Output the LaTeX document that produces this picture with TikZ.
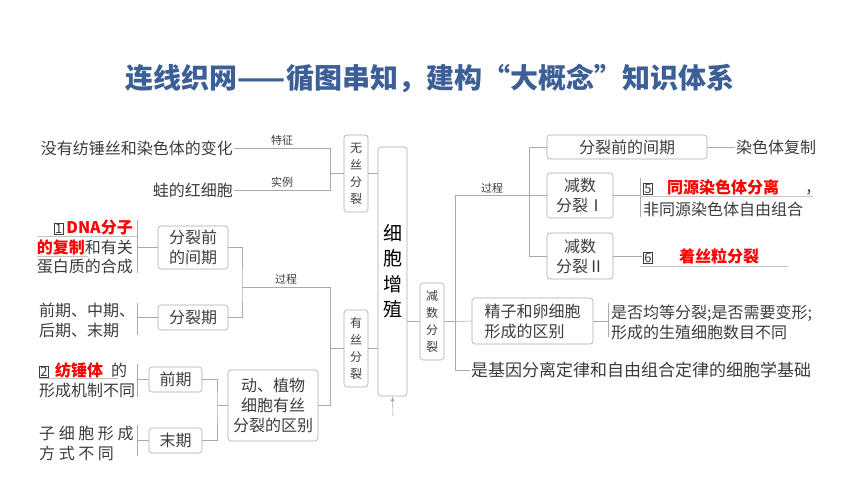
\documentclass[tikz,border=0pt]{standalone}
\usepackage{fontspec}
\setmainfont{Noto Sans CJK SC}
\usetikzlibrary{positioning,arrows.meta}
\definecolor{titleblue}{RGB}{59,95,150}
\definecolor{inkgray}{RGB}{60,60,60}
\definecolor{edge}{RGB}{170,170,170}
\definecolor{keyred}{RGB}{255,0,0}
\newcommand\numbox[1]{{\setlength{\fboxsep}{0.3pt}\setlength{\fboxrule}{0.6pt}\fbox{\makebox[8pt]{\fontsize{13}{13}\selectfont #1}}}}
\newcommand\ans[1]{\textcolor{keyred}{\bfseries #1}}

\begin{document}
\begin{tikzpicture}[x=1pt, y=-1pt,
  box/.style = {draw=edge, rounded corners=3pt, line width=0.6pt, inner sep=0pt, align=center, text=inkgray, font=\fontsize{16}{20}\selectfont},
  vbox/.style = {box, minimum width=24pt, minimum height=77pt, font=\fontsize{12}{17}\selectfont},
  txt/.style = {text=inkgray, inner sep=1pt, font=\fontsize{16}{20}\selectfont},
  lab/.style = {text=inkgray, inner sep=0pt, font=\fontsize{11}{11}\selectfont},
  line/.style = {draw=edge, line width=0.6pt},
  blank/.style = {draw=edge!70, line width=0.6pt}]
\useasboundingbox (0,0) rectangle (860,484);

% title
\node[text=titleblue, font=\fontsize{28}{28}\selectfont\bfseries] (title) at (430,78) {连线织网——循图串知，建构“大概念”知识体系};

% centre
\node[box, minimum width=29pt, minimum height=249pt, font=\fontsize{19}{25.5}\selectfont, text=black] (zz) at (392.5,271.5) {细\\胞\\增\\殖};
\node[vbox] (wusi) at (356,173.5) {无\\丝\\分\\裂};
\node[vbox] (yousi) at (356,348.5) {有\\丝\\分\\裂};
\node[vbox] (jianshu) at (432,321.5) {减\\数\\分\\裂};
\coordinate (src) at (393,416);
\draw[line, -{Latex[length=5pt,width=4pt]}] (src) -- (zz.south);
\draw[line] (wusi.east) -- (wusi.east -| zz.west);
\draw[line] (yousi.east) -- (yousi.east -| zz.west);
\draw[line] (jianshu.west) -- (jianshu.west -| zz.east);

% amitosis
\node[txt, anchor=east] (nofib) at (234,148) {没有纺锤丝和染色体的变化};
\node[txt, anchor=east] (frog) at (234,190) {蛙的红细胞};
\coordinate (wj) at (330,173.5);
\draw[line] (nofib.east) -- node[lab, above=2pt]{特征} (nofib.east -| wj) -- (frog.east -| wj) -- node[lab, above=2pt]{实例} (frog.east);
\draw[line] (wj) -- (wusi.west);

% mitosis
\node[box, minimum width=70pt, minimum height=43pt] (jq1) at (193,247.5) {分裂前\\的间期};
\node[box, minimum width=70pt, minimum height=25pt] (flq) at (193,317.5) {分裂期};
\node[box, minimum width=53pt, minimum height=25pt] (qq) at (175.5,379.5) {前期};
\node[box, minimum width=53pt, minimum height=25pt] (mq) at (175.5,440.5) {末期};
\node[box, minimum width=90pt, minimum height=71pt] (qb) at (273,405.5) {动、植物\\细胞有丝\\分裂的区别};
\coordinate (pj) at (242,287);
\coordinate (yj) at (330,287);
\coordinate (bj) at (217,405.5);
\draw[line] (jq1.east) -| (pj) |- (flq.east);
\draw[line] (pj) -- node[lab, above=2pt]{过程} (yj) |- (qb.east);
\draw[line] (yousi.west) -- (yousi.west -| yj);
\draw[line] (qq.east) -| (bj) |- (mq.east);
\draw[line] (bj) -- (qb.west);

\node[txt, anchor=east, align=right, font=\fontsize{16}{19.5}\selectfont] (dna) at (134,247) {\numbox{1}\,\ans{DNA分子}\\\ans{的复制}和有关\\蛋白质的合成};
\node[txt, anchor=west, align=left] (phases) at (38,320) {前期、中期、\\后期、末期};
\node[txt, anchor=west, align=left] (spindle) at (38,380) {\numbox{2}\hspace{6pt}\ans{纺锤体}\hspace{8pt}的\\形成机制不同};
\node[txt, anchor=west, align=left] (daughter) at (38,443) {子 细 胞 形 成\\方 式 不 同};
\draw[line] (137,220) -- (137,273);
\draw[line] (137,247.5) -- (jq1.west);
\draw[line] (137,303) -- (137,335);
\draw[line] (137,317.5) -- (flq.west);
\draw[line] (137,364) -- (137,397);
\draw[line] (137,379.5) -- (qq.west);
\draw[line] (137,425) -- (137,456);
\draw[line] (137,440.5) -- (mq.west);
\draw[blank] (38,236) -- (137,236);
\draw[blank] (37,256) -- (88,256);
\draw[blank] (39,378) -- (118,378);

% meiosis
\node[box, minimum width=160pt, minimum height=24pt] (jq2) at (627,147) {分裂前的间期};
\node[box, minimum width=66pt, minimum height=45pt] (js1) at (580,195.5) {减数\\分裂Ⅰ};
\node[box, minimum width=66pt, minimum height=46pt] (js2) at (580,256) {减数\\分裂Ⅱ};
\node[box, minimum width=121pt, minimum height=46pt, align=left] (jz) at (532.5,321) {精子和卵细胞\\形成的区别};
\node[txt, anchor=west, font=\fontsize{17}{20}\selectfont] (basis) at (470,370) {是基因分离定律和自由组合定律的细胞学基础};
\node[txt, anchor=west] (dup) at (735,147) {染色体复制};
\node[txt, anchor=west, align=left, font=\fontsize{16}{22}\selectfont] (sep) at (642,198) {\numbox{5}\hspace{14pt}\ans{同源染色体分离}\hspace{26pt}，\\非同源染色体自由组合};
\node[txt, anchor=west] (cen) at (642,256) {\numbox{6}\hspace{26pt}\ans{着丝粒分裂}};
\node[txt, anchor=west, align=left] (diff) at (610,322) {是否均等分裂;是否需要变形;\\形成的生殖细胞数目不同};
\coordinate (rj) at (455,321.5);
\coordinate (pj2) at (529,195.5);
\draw[line] (jianshu.east) -- (rj);
\draw[line] (rj |- pj2) -- node[lab, above=2pt]{过程} (pj2);
\draw[line] (rj |- pj2) |- (basis.west);
\draw[line] (rj) -- (jz.west);
\draw[line] (jq2.west) -| (pj2 |- js2.west) -- (js2.west);
\draw[line] (pj2) -- (js1.west);
\draw[line] (jq2.east) -- (dup.west);
\draw[line] (640,178) -- (640,217);
\draw[line] (js1.east) -- (640,195.5);
\draw[blank] (640,196) -- (813,196);
\draw[line] (js2.east) -- (cen.west);
\draw[blank] (640,266) -- (788,266);
\draw[line] (608,303) -- (608,337);
\draw[line] (jz.east) -- (608,321);
\end{tikzpicture}
\end{document}
